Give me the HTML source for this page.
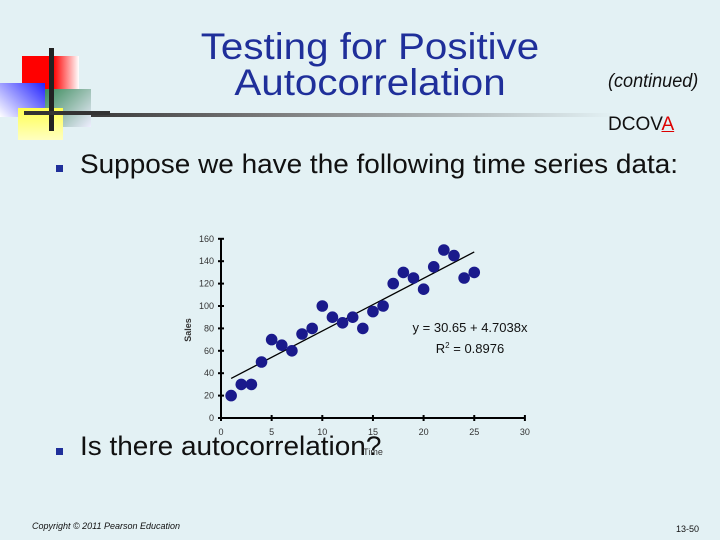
<!DOCTYPE html>
<html><head><meta charset="utf-8"><style>
body{margin:0;width:720px;height:540px;background:#e3f1f4;position:relative;overflow:hidden;font-family:"Liberation Sans",sans-serif}
.a{position:absolute}
.sx{transform-origin:0 0;transform:scaleX(1.035);white-space:nowrap}
</style></head><body>
<div class="a" style="left:24px;top:113px;width:590px;height:4px;background:linear-gradient(90deg,#222,#777 40%,#e3f1f4)"></div>
<div class="a" style="left:0;top:40px;width:110px;height:100px">
<div class="a" style="left:22px;top:16px;width:57px;height:34px;background:linear-gradient(90deg,#f00 55%,#fff)"></div>
<div class="a" style="left:0;top:43px;width:45px;height:34px;background:linear-gradient(45deg,#fff,#22f)"></div>
<div class="a" style="left:45px;top:49px;width:46px;height:38px;background:linear-gradient(135deg,#3a8a5a,#eef)"></div>
<div class="a" style="left:18px;top:68px;width:45px;height:32px;background:linear-gradient(0deg,#ffffc0,#ffff50)"></div>
<div class="a" style="left:49px;top:8px;width:5px;height:83px;background:#222"></div>
<div class="a" style="left:24px;top:71px;width:86px;height:4px;background:#333"></div>
</div>
<div class="a" style="left:150px;top:29px;width:440px;text-align:center;font-size:37px;line-height:36px;color:#1f2f9a;transform:scaleX(1.09);transform-origin:220px 0">Testing for Positive<br>Autocorrelation</div>
<div class="a" style="left:608px;top:71px;font-size:19px;font-style:italic;color:#111;transform:scaleX(0.95);transform-origin:0 0;white-space:nowrap">(continued)</div>
<div class="a" style="left:608px;top:114px;font-size:19px;color:#111">DCOV<span style="color:#d00;text-decoration:underline">A</span></div>
<div class="a" style="left:56px;top:165px;width:7px;height:7px;background:#1f2f9a"></div>
<div class="a sx" style="left:80px;top:151px;font-size:27px;line-height:27px;color:#111">Suppose we have the following time series data:</div>
<div class="a" style="left:56px;top:448px;width:7px;height:7px;background:#1f2f9a"></div>
<div class="a sx" style="left:80px;top:433px;font-size:27px;line-height:27px;color:#111">Is there autocorrelation?</div>
<svg class="a" style="left:0;top:0" width="720" height="540">
<g id="g" font-family="Liberation Sans" font-size="9" fill="#333"></g>
</svg>
<div class="a" style="left:32px;top:521px;font-size:9px;font-style:italic;color:#111">Copyright © 2011 Pearson Education</div>
<div class="a" style="left:676px;top:524px;font-size:9px;color:#111">13-50</div>
<script>
const sales=[20,30,30,50,70,65,60,75,80,100,90,85,90,80,95,100,120,130,125,115,135,150,145,125,130];
const xTicks=[0,5,10,15,20,25,30];
const yTicks=[0,20,40,60,80,100,120,140,160];
const intercept=30.65, slope=4.7038;
const X=v=>221+v*10.13, Y=v=>418-v*1.12;
const g=document.getElementById('g'),NS='http://www.w3.org/2000/svg';
function mk(t,a){const e=document.createElementNS(NS,t);for(const k in a)e.setAttribute(k,a[k]);g.appendChild(e);return e;}
let e=mk('line',{x1:X(0),y1:Y(0),x2:X(30),y2:Y(0),stroke:'#000','stroke-width':2});


e=mk('line',{x1:X(0),y1:Y(0),x2:X(0),y2:Y(160),stroke:'#000','stroke-width':2});


xTicks.forEach(t=>{mk('line',{x1:X(t),y1:Y(0)-3,x2:X(t),y2:Y(0)+3,stroke:'#000','stroke-width':2});
const l=mk('text',{x:X(t),y:Y(0)+17,'text-anchor':'middle'});l.textContent=t;

});
yTicks.forEach(t=>{mk('line',{x1:X(0)-3,y1:Y(t),x2:X(0)+3,y2:Y(t),stroke:'#000','stroke-width':2});
const l=mk('text',{x:X(0)-7,y:Y(t)+3,'text-anchor':'end'});l.textContent=t;

});
e=mk('text',{x:191,y:330,transform:'rotate(-90 191 330)','text-anchor':'middle','font-weight':'bold'});e.textContent='Sales';


e=mk('text',{x:373,y:455,'text-anchor':'middle'});e.textContent='Time';


e=mk('line',{x1:X(1),y1:Y(intercept+slope),x2:X(25),y2:Y(intercept+slope*25),stroke:'#000','stroke-width':1.3});


sales.forEach((v,i)=>{const c=mk('circle',{cx:X(i+1),cy:Y(v),r:5.8,fill:'#1a1a8c'});

});
e=mk('text',{x:470,y:332,'text-anchor':'middle','font-size':'13',fill:'#111'});e.textContent='y = 30.65 + 4.7038x';


e=mk('text',{x:470,y:353,'text-anchor':'middle','font-size':'13',fill:'#111'});e.innerHTML='R<tspan dy="-5" font-size="8">2</tspan><tspan dy="5"> = 0.8976</tspan>';


</script>
</body></html>
